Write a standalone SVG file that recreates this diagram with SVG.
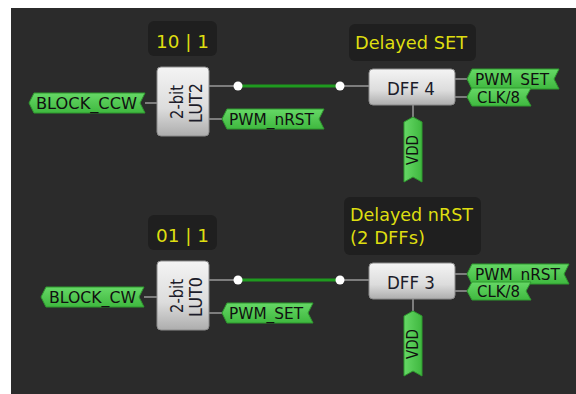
<svg xmlns="http://www.w3.org/2000/svg" width="576" height="394" viewBox="0 0 576 394">
<defs>
<linearGradient id="box" x1="0" y1="0" x2="0" y2="1">
<stop offset="0" stop-color="#f4f4f4"/>
<stop offset="0.6" stop-color="#dcdcdc"/>
<stop offset="1" stop-color="#adadad"/>
</linearGradient>
<linearGradient id="tag" x1="0" y1="0" x2="0" y2="1">
<stop offset="0" stop-color="#66d866"/>
<stop offset="1" stop-color="#3fb83f"/>
</linearGradient>
<linearGradient id="vtag" x1="0" y1="0" x2="1" y2="0">
<stop offset="0" stop-color="#66d866"/>
<stop offset="1" stop-color="#3fb83f"/>
</linearGradient>
</defs>
<style>
.bg{fill:#2b2b2b}
.note{fill:#1f1f1f}
.ntxt{font-family:"DejaVu Sans","Liberation Sans",sans-serif;font-size:17px;fill:#dede10}
.blk{fill:url(#box);stroke:#8c8c8c;stroke-width:1}
.btxt{font-family:"DejaVu Sans","Liberation Sans",sans-serif;font-size:17px;fill:#1c1c2a}
.tag{fill:url(#tag);stroke:#2f9a2f;stroke-width:1}
.vtag{fill:url(#vtag);stroke:#2f9a2f;stroke-width:1}
.ttxt{font-family:"DejaVu Sans","Liberation Sans",sans-serif;font-size:15px;fill:#101010}
.w{stroke:#9a9a9a;stroke-width:1.5;fill:none}
.g{stroke:#1f9a1f;stroke-width:3;fill:none}
.dot{fill:#ffffff}
</style>
<rect x="0" y="0" width="576" height="394" fill="#ffffff"/>
<rect class="bg" x="11" y="8" width="565" height="386"/>

<g id="connectors">
<line class="w" x1="145" y1="103" x2="157" y2="103"/>
<line class="w" x1="209" y1="86" x2="238" y2="86"/>
<line class="g" x1="238" y1="86" x2="340" y2="86"/>
<line class="w" x1="340" y1="86" x2="369" y2="86"/>
<line class="w" x1="209" y1="119" x2="222" y2="119"/>
<line class="w" x1="455" y1="79" x2="467" y2="79"/>
<line class="w" x1="455" y1="97" x2="467" y2="97"/>
<line class="w" x1="413" y1="105" x2="413" y2="117"/>
<circle class="dot" cx="238" cy="86" r="4.5"/>
<circle class="dot" cx="340" cy="86" r="4.5"/>

<line class="w" x1="144" y1="297" x2="157" y2="297"/>
<line class="w" x1="209" y1="280" x2="238" y2="280"/>
<line class="g" x1="238" y1="280" x2="340" y2="280"/>
<line class="w" x1="340" y1="280" x2="369" y2="280"/>
<line class="w" x1="209" y1="313" x2="222" y2="313"/>
<line class="w" x1="455" y1="274" x2="467" y2="274"/>
<line class="w" x1="455" y1="291" x2="467" y2="291"/>
<line class="w" x1="413" y1="299" x2="413" y2="311"/>
<circle class="dot" cx="238" cy="280" r="4.5"/>
<circle class="dot" cx="340" cy="280" r="4.5"/>
</g>

<g id="note-lut2">
<rect class="note" x="148" y="21" width="69" height="35" rx="6"/>
<text class="ntxt" x="182.5" y="48" text-anchor="middle" textLength="53" lengthAdjust="spacingAndGlyphs">10 | 1</text>
</g>
<g id="note-dff4">
<rect class="note" x="349" y="24" width="127" height="37" rx="6"/>
<text class="ntxt" x="355" y="49" textLength="112" lengthAdjust="spacingAndGlyphs">Delayed SET</text>
</g>
<g id="note-lut0">
<rect class="note" x="148" y="215" width="69" height="35" rx="6"/>
<text class="ntxt" x="182.5" y="242" text-anchor="middle" textLength="53" lengthAdjust="spacingAndGlyphs">01 | 1</text>
</g>
<g id="note-dff3">
<rect class="note" x="344" y="197" width="137" height="58" rx="6"/>
<text class="ntxt" x="350" y="221" textLength="123" lengthAdjust="spacingAndGlyphs">Delayed nRST</text>
<text class="ntxt" x="350" y="244" textLength="75" lengthAdjust="spacingAndGlyphs">(2 DFFs)</text>
</g>

<g id="lut2">
<rect class="blk" x="157" y="67" width="52" height="69" rx="4"/>
<text class="btxt" transform="translate(183,102) rotate(-90)" text-anchor="middle" textLength="34" lengthAdjust="spacingAndGlyphs">2-bit</text>
<text class="btxt" transform="translate(202,103) rotate(-90)" text-anchor="middle" textLength="40" lengthAdjust="spacingAndGlyphs">LUT2</text>
</g>
<g id="lut0">
<rect class="blk" x="157" y="261" width="52" height="69" rx="4"/>
<text class="btxt" transform="translate(183,296) rotate(-90)" text-anchor="middle" textLength="34" lengthAdjust="spacingAndGlyphs">2-bit</text>
<text class="btxt" transform="translate(202,297) rotate(-90)" text-anchor="middle" textLength="40" lengthAdjust="spacingAndGlyphs">LUT0</text>
</g>
<g id="dff4">
<rect class="blk" x="369" y="69" width="86" height="36" rx="4"/>
<text class="btxt" x="411" y="95" text-anchor="middle" font-size="19" textLength="48" lengthAdjust="spacingAndGlyphs">DFF 4</text>
</g>
<g id="dff3">
<rect class="blk" x="369" y="263" width="86" height="36" rx="4"/>
<text class="btxt" x="411" y="289" text-anchor="middle" font-size="19" textLength="48" lengthAdjust="spacingAndGlyphs">DFF 3</text>
</g>

<g id="tag-block-ccw">
<path class="tag" d="M29,103 L34,93 L145,93 L140,103 L145,113 L34,113 Z"/>
<text class="ttxt" x="86.5" y="108.5" text-anchor="middle" textLength="101" lengthAdjust="spacingAndGlyphs">BLOCK_CCW</text>
</g>
<g id="tag-pwm-nrst-1">
<path class="tag" d="M222,119 L227,109 L324,109 L319,119 L324,129 L227,129 Z"/>
<text class="ttxt" x="271.5" y="124.5" text-anchor="middle" textLength="85" lengthAdjust="spacingAndGlyphs">PWM_nRST</text>
</g>
<g id="tag-pwm-set-1">
<path class="tag" d="M467,79 L472,69 L559,69 L554,79 L559,89 L472,89 Z"/>
<text class="ttxt" x="512" y="84.5" text-anchor="middle" textLength="74" lengthAdjust="spacingAndGlyphs">PWM_SET</text>
</g>
<g id="tag-clk8-1">
<path class="tag" d="M467,97 L472,88 L531,88 L526,97 L531,106 L472,106 Z"/>
<text class="ttxt" x="498.5" y="102.5" text-anchor="middle" textLength="43" lengthAdjust="spacingAndGlyphs">CLK/8</text>
</g>
<g id="tag-vdd-1">
<path class="vtag" d="M413,117 L422,122 L422,182 L413,177 L404,182 L404,122 Z"/>
<text class="ttxt" transform="translate(418,150) rotate(-90)" text-anchor="middle" textLength="30" lengthAdjust="spacingAndGlyphs">VDD</text>
</g>

<g id="tag-block-cw">
<path class="tag" d="M41,297 L46,287 L144,287 L139,297 L144,307 L46,307 Z"/>
<text class="ttxt" x="92.5" y="302.5" text-anchor="middle" textLength="87" lengthAdjust="spacingAndGlyphs">BLOCK_CW</text>
</g>
<g id="tag-pwm-set-2">
<path class="tag" d="M222,313 L227,303 L313,303 L308,313 L313,323 L227,323 Z"/>
<text class="ttxt" x="266" y="318.5" text-anchor="middle" textLength="74" lengthAdjust="spacingAndGlyphs">PWM_SET</text>
</g>
<g id="tag-pwm-nrst-2">
<path class="tag" d="M467,274 L472,264 L569,264 L564,274 L569,284 L472,284 Z"/>
<text class="ttxt" x="517.5" y="279.5" text-anchor="middle" textLength="85" lengthAdjust="spacingAndGlyphs">PWM_nRST</text>
</g>
<g id="tag-clk8-2">
<path class="tag" d="M467,291 L472,282 L531,282 L526,291 L531,300 L472,300 Z"/>
<text class="ttxt" x="498.5" y="296.5" text-anchor="middle" textLength="43" lengthAdjust="spacingAndGlyphs">CLK/8</text>
</g>
<g id="tag-vdd-2">
<path class="vtag" d="M413,311 L422,316 L422,376 L413,371 L404,376 L404,316 Z"/>
<text class="ttxt" transform="translate(418,344) rotate(-90)" text-anchor="middle" textLength="30" lengthAdjust="spacingAndGlyphs">VDD</text>
</g>
</svg>
